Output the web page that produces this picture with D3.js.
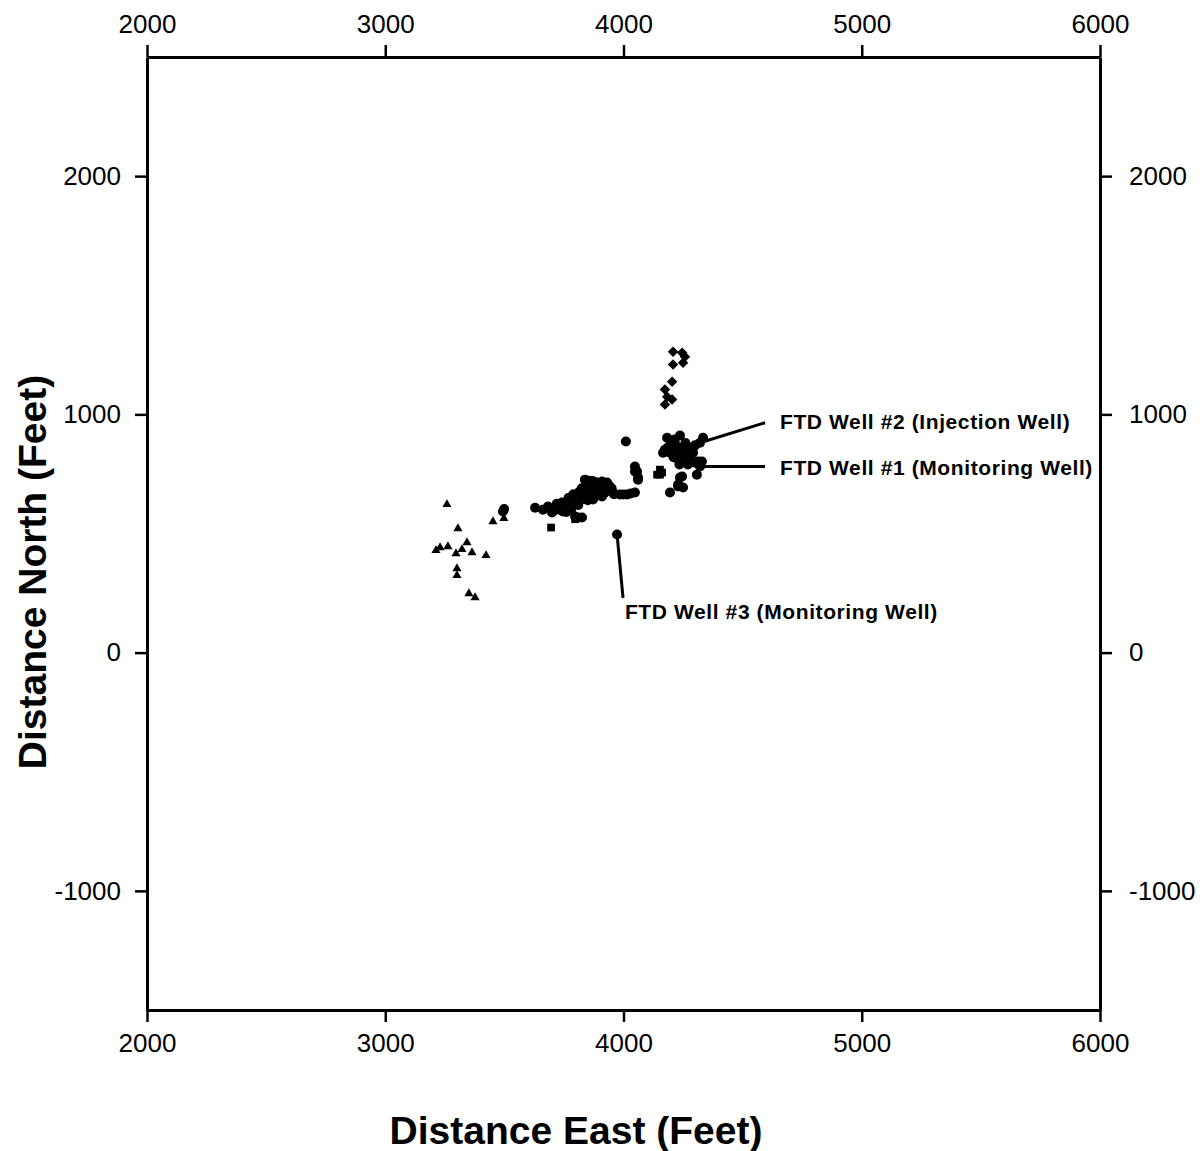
<!DOCTYPE html>
<html>
<head>
<meta charset="utf-8">
<script src="https://cdn.jsdelivr.net/npm/d3@7"></script>
<style>
  body { margin: 0; background: #fff; }
  text { font-family: "Liberation Sans", Arial, sans-serif; }
</style>
</head>
<body>
<div id="chart"></div>
<script>
// axis ranges (feet)
const xDomain = [2000, 6000];
const yDomain = [-1500, 2500];
const xTicks = [2000, 3000, 4000, 5000, 6000];
const yTicks = [-1000, 0, 1000, 2000];

// west group (triangles) [east, north]
const triPoints = [
  [3259, 622], [3305, 521], [3213, 429], [3230, 441], [3263, 445],
  [3297, 416], [3322, 433], [3343, 462], [3364, 420], [3423, 408],
  [3301, 353], [3301, 324], [3351, 248], [3377, 231], [3452, 550],
  [3498, 563]
];

// main trend (circles)
const circlePoints = [
  [3494, 592], [3499, 603], [3629, 608], [3662, 600], [3683, 613], [3700, 588],
  [3721, 613], [3742, 630], [3746, 592], [3767, 643], [3784, 613],
  [3805, 655], [3809, 567], [3797, 571], [3826, 685], [3838, 726],
  [3847, 672], [3859, 697], [3872, 643], [3893, 706], [3910, 718],
  [3922, 685], [3931, 714], [3910, 655], [3956, 672], [3985, 664],
  [4015, 664], [4048, 672], [3720, 625], [3760, 620], [3780, 640],
  [3800, 630], [3820, 650], [3840, 660], [3860, 670], [3880, 680],
  [3900, 690], [3920, 700], [3940, 700], [3880, 700], [3860, 690],
  [3830, 670], [3800, 660], [3770, 650], [3750, 610], [3730, 600],
  [3850, 640], [3890, 660], [3920, 670], [3940, 680], [3870, 720],
  [3900, 710], [3950, 690], [3810, 620], [3780, 600], [3760, 590],
  [3826, 567], [3690, 605], [3710, 600], [3735, 615], [3765, 630],
  [3790, 625], [3815, 640], [3835, 645], [3855, 655], [3875, 665],
  [3895, 675], [3915, 685], [3935, 690], [3865, 705], [3845, 700],
  [3885, 715], [3905, 700], [3825, 690], [3815, 675], [3790, 665],
  [3960, 665], [4000, 664], [4030, 668],
  [4010, 886], [4048, 760], [4061, 726], [4057, 760],
  [4048, 781], [4061, 735], [4183, 902], [4237, 911], [4174, 852],
  [4195, 839], [4225, 823], [4267, 865], [4292, 839], [4237, 797],
  [4300, 797], [4329, 802], [4308, 747], [4237, 735], [4250, 693],
  [4229, 697], [4195, 672], [4334, 902], [4166, 839], [4313, 802],
  [4200, 880], [4220, 870], [4240, 860], [4260, 850], [4280, 840],
  [4200, 850], [4220, 840], [4240, 830], [4260, 820], [4280, 810],
  [4210, 820], [4230, 810], [4250, 800], [4270, 790], [4290, 860],
  [4300, 870], [4195, 870], [4215, 895], [4260, 880], [4245, 845],
  [4246, 739], [4229, 705], [4210, 860], [4230, 855], [4250, 835],
  [4270, 825], [4215, 830], [4235, 790], [4255, 815], [4185, 860]
];

// squares
const squarePoints = [
  [3696, 525], [3797, 560], [4153, 747], [4153, 768], [4141, 747],
  [4162, 756], [3847, 726]
];

// northern trail (diamonds)
const diamondPoints = [
  [4208, 1263], [4246, 1259], [4258, 1242], [4250, 1217], [4208, 1209],
  [4204, 1137], [4174, 1104], [4183, 1074], [4204, 1062], [4174, 1041]
];

// well annotations: marker point, leader end, label anchor
const wellNames = [
  "FTD Well #2 (Injection Well)",
  "FTD Well #1 (Monitoring Well)",
  "FTD Well #3 (Monitoring Well)"
];
const wellPoints = [[4321, 881], [4321, 781], [3973, 496]];
const leaderEnds = [[4594, 965], [4594, 781], [3998, 230]];
const labelAnchors = [[4657, 969], [4657, 777], [4006, 172]];

const width = 1200, height = 1151;
const margin = { top: 57, right: 100, bottom: 141, left: 147 };

const svg = d3.select("#chart").append("svg")
  .attr("width", width)
  .attr("height", height);

const x = d3.scaleLinear().domain(xDomain).range([margin.left, width - margin.right]);
const y = d3.scaleLinear().domain(yDomain).range([height - margin.bottom, margin.top]);

const fmt = d => String(d); // plain hyphen for negatives

function styleAxis(g) {
  g.selectAll("path.domain").attr("stroke", "#000").attr("stroke-width", 3);
  g.selectAll(".tick line").attr("stroke", "#000").attr("stroke-width", 2.5);
  g.selectAll(".tick text").attr("font-size", 26).attr("fill", "#000")
    .style("font-family", "'Liberation Sans', Arial, sans-serif");
}

svg.append("g")
  .attr("transform", `translate(0,${height - margin.bottom})`)
  .call(d3.axisBottom(x).tickValues(xTicks).tickFormat(fmt).tickSize(12).tickSizeOuter(0).tickPadding(12))
  .call(styleAxis);

svg.append("g")
  .attr("transform", `translate(0,${margin.top})`)
  .call(d3.axisTop(x).tickValues(xTicks).tickFormat(fmt).tickSize(12).tickSizeOuter(0).tickPadding(12))
  .call(styleAxis);

svg.append("g")
  .attr("transform", `translate(${margin.left},0)`)
  .call(d3.axisLeft(y).tickValues(yTicks).tickFormat(fmt).tickSize(12).tickSizeOuter(0).tickPadding(14))
  .call(styleAxis);

svg.append("g")
  .attr("transform", `translate(${width - margin.right},0)`)
  .call(d3.axisRight(y).tickValues(yTicks).tickFormat(fmt).tickSize(12).tickSizeOuter(0).tickPadding(17))
  .call(styleAxis);

// axis titles
svg.append("text")
  .attr("x", 576)
  .attr("y", 1144)
  .attr("text-anchor", "middle")
  .attr("font-size", 39)
  .attr("font-weight", "bold")
  .text("Distance East (Feet)");

svg.append("text")
  .attr("transform", "translate(46,572) rotate(-90)")
  .attr("text-anchor", "middle")
  .attr("font-size", 39)
  .attr("font-weight", "bold")
  .text("Distance North (Feet)");

// markers
const plot = svg.append("g");

plot.selectAll("path.tri")
  .data(triPoints)
  .join("path")
  .attr("class", "tri")
  .attr("transform", d => `translate(${x(d[0])},${y(d[1])})`)
  .attr("d", d3.symbol(d3.symbolTriangle, 36))
  .attr("fill", "#000");

plot.selectAll("circle.pt")
  .data(circlePoints)
  .join("circle")
  .attr("class", "pt")
  .attr("cx", d => x(d[0]))
  .attr("cy", d => y(d[1]))
  .attr("r", 5)
  .attr("fill", "#000");

plot.selectAll("path.sq")
  .data(squarePoints)
  .join("path")
  .attr("class", "sq")
  .attr("transform", d => `translate(${x(d[0])},${y(d[1])})`)
  .attr("d", d3.symbol(d3.symbolSquare, 60))
  .attr("fill", "#000");

plot.selectAll("path.dia")
  .data(diamondPoints)
  .join("path")
  .attr("class", "dia")
  .attr("transform", d => `translate(${x(d[0])},${y(d[1])})`)
  .attr("d", d3.symbol(d3.symbolDiamond2, 70))
  .attr("fill", "#000");

// well annotations
const wells = svg.append("g");

wells.selectAll("line")
  .data(wellPoints)
  .join("line")
  .attr("x1", d => x(d[0]))
  .attr("y1", d => y(d[1]))
  .attr("x2", (d, i) => x(leaderEnds[i][0]))
  .attr("y2", (d, i) => y(leaderEnds[i][1]))
  .attr("stroke", "#000")
  .attr("stroke-width", 3);

wells.selectAll("circle")
  .data(wellPoints)
  .join("circle")
  .attr("cx", d => x(d[0]))
  .attr("cy", d => y(d[1]))
  .attr("r", 5)
  .attr("fill", "#000");

wells.selectAll("text")
  .data(wellNames)
  .join("text")
  .attr("x", (d, i) => x(labelAnchors[i][0]))
  .attr("y", (d, i) => y(labelAnchors[i][1]))
  .attr("dy", "0.35em")
  .attr("font-size", 21)
  .attr("font-weight", "bold")
  .attr("letter-spacing", 0.6)
  .text(d => d);
</script>
</body>
</html>
